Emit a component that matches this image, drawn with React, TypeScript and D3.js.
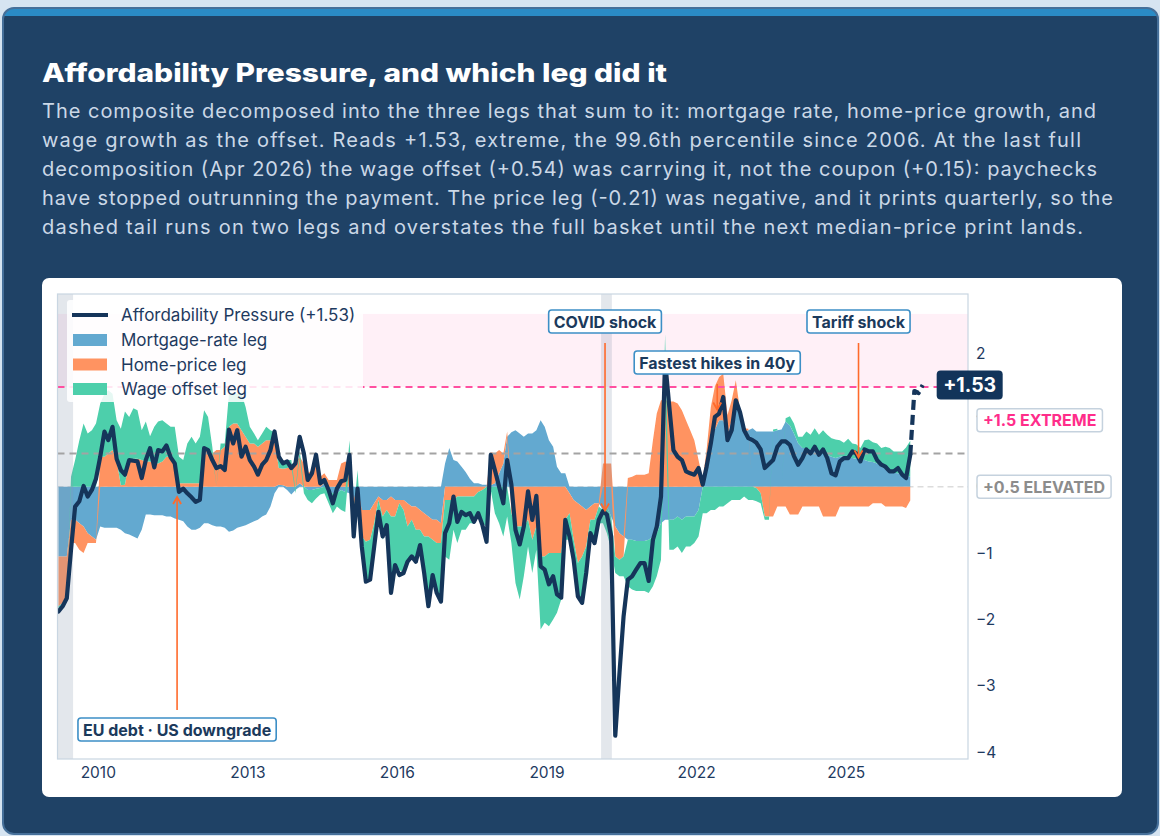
import React from 'react';
import * as d3 from 'd3';

const W = 1160;
const H = 836;
const FONT = "Inter, 'Noto Sans', 'DejaVu Sans', sans-serif";

// monthly series, first value = March 2009, last = April 2026
const START_YEAR = 2009;
const START_MONTH = 2;

const composite = [
  -1.88, -1.8, -1.68, -0.95, -0.3, -0.22, 0.01, -0.15, -0.05, 0.12, // 2009
  0.45, 0.83, 0.7, 0.9, 0.42, 0.25, 0.18, 0.4, 0.39, 0.38, 0.13, 0.4,
  0.58, 0.29, 0.55, 0.53, 0.62, 0.44, 0.35, -0.08, -0.03, -0.1, -0.16, -0.23,
  -0.2, 0.58, 0.55, 0.4, 0.28, 0.31, 0.25, 0.86, 0.65, 0.85, 0.45, 0.6,
  0.4, 0.3, 0.18, 0.33, 0.4, 0.55, 0.83, 0.45, 0.35, 0.38, 0.28, 0.35,
  0.75, 0.5, 0.1, 0.2, 0.48, 0.05, 0.1, -0.05, -0.25, -0.03, 0.08, 0.1,
  0.48, -0.75, -0.03, -0.9, -1.43, -1.4, -0.9, -0.38, -0.75, -0.58, -1.6, -1.18,
  -1.33, -1.3, -1.13, -1.05, -1.13, -0.88, -1.3, -1.8, -1.33, -1.6, -1.73, -0.7,
  -0.55, -0.15, -0.53, -0.38, -0.43, -0.4, -0.53, -0.4, -0.58, -0.83, 0.48, 0.25,
  0.0, -0.25, 0.4, 0.03, -0.65, -0.87, -0.6, -0.07, -0.5, -0.14, -1.2, -1.25,
  -1.47, -1.35, -1.62, -1.67, -0.5, -0.75, -1.1, -1.65, -1.75, -1.3, -0.7, -0.85,
  -0.5, -0.37, -0.42, -0.75, -3.75, -2.8, -1.95, -1.4, -1.35, -1.25, -1.15, -1.15,
  -1.42, -0.8, -0.6, -0.15, 1.9, 1.2, 0.55, 0.45, 0.4, 0.23, 0.2, 0.18,
  0.28, 0.03, 0.3, 0.65, 1.05, 1.1, 1.35, 0.7, 0.85, 1.3, 1.12, 0.85,
  0.73, 0.7, 0.66, 0.56, 0.28, 0.34, 0.4, 0.6, 0.68, 0.68, 0.63, 0.46,
  0.33, 0.43, 0.56, 0.5, 0.6, 0.48, 0.56, 0.43, 0.2, 0.17, 0.38, 0.43,
  0.43, 0.53, 0.5, 0.38, 0.56, 0.53, 0.53, 0.4, 0.33, 0.3, 0.23, 0.23,
  0.28, 0.18, 0.13, 0.48, // 2026
];

const mortgageLeg = [
  -1.05, -1.05, -1.05, -0.5, -0.5, -0.55, -0.6, -0.7, -0.75, -0.8,
  -0.6, -0.62, -0.62, -0.62, -0.62, -0.65, -0.7, -0.72, -0.75, -0.78, -0.65, -0.42,
  -0.42, -0.43, -0.43, -0.43, -0.45, -0.45, -0.48, -0.5, -0.52, -0.6, -0.65, -0.65,
  -0.62, -0.55, -0.55, -0.58, -0.6, -0.6, -0.62, -0.68, -0.66, -0.62, -0.6, -0.58,
  -0.55, -0.52, -0.5, -0.45, -0.42, -0.3, -0.1, 0.03, 0.02, -0.05, -0.12, -0.05,
  0.05, 0.0, -0.05, -0.05, -0.03, -0.02, 0.05, -0.05, -0.1, -0.1, -0.05, -0.08,
  -0.1, -0.2, -0.35, -0.35, -0.35, -0.35, -0.25, -0.15, -0.2, -0.2, -0.15, -0.2,
  -0.2, -0.2, -0.25, -0.3, -0.3, -0.35, -0.4, -0.45, -0.5, -0.5, -0.55, 0.35,
  0.58, 0.4, 0.38, 0.3, 0.22, 0.12, 0.05, 0.05, 0.03, 0.03, 0.02, 0.05,
  0.2, 0.35, 0.75, 0.82, 0.85, 0.8, 0.75, 0.8, 0.8, 0.85, 1.0, 0.9,
  0.7, 0.6, 0.3, 0.2, 0.2, -0.1, -0.2, -0.25, -0.3, -0.35, -0.3, -0.25,
  -0.25, -0.35, -0.3, -0.45, -0.6, -0.7, -0.75, -0.8, -0.8, -0.82, -0.82, -0.82,
  -0.8, -0.75, -0.7, -0.55, -0.5, -0.5, -0.5, -0.45, -0.5, -0.45, -0.45, -0.45,
  -0.35, 0.0, 0.3, 0.75, 0.86, 1.0, 1.0, 0.78, 1.0, 1.3, 1.05, 0.83,
  0.85, 0.88, 0.83, 0.83, 0.83, 0.83, 0.83, 0.85, 0.86, 0.98, 0.92, 0.8,
  0.65, 0.58, 0.58, 0.56, 0.56, 0.54, 0.5, 0.48, 0.45, 0.43, 0.45, 0.46,
  0.44, 0.43, 0.42, 0.41, 0.4, 0.38, 0.37, 0.35, 0.3, 0.27, 0.23, 0.21,
  0.2, 0.18, 0.17, 0.15,
];

const priceLeg = [
  -0.75, -0.7, -0.6, -0.35, -0.35, -0.4, -0.4, -0.15, -0.1, -0.05,
  0.45, 0.45, 0.5, 0.55, 0.4, 0.02, 0.03, 0.4, 0.42, 0.42, 0.4, 0.38,
  0.38, 0.35, 0.35, 0.38, 0.45, 0.45, 0.3, 0.05, 0.05, 0.05, 0.05, 0.05,
  0.05, 0.55, 0.55, 0.5, 0.55, 0.55, 0.6, 0.9, 0.95, 0.95, 0.85, 0.75,
  0.65, 0.65, 0.6, 0.65, 0.7, 0.7, 0.72, 0.25, 0.25, 0.28, 0.3, 0.35,
  0.4, 0.35, 0.2, 0.25, 0.35, 0.15, 0.15, 0.1, 0.1, 0.1, 0.35, 0.38,
  0.35, -0.2, 0.0, -0.4, -0.48, -0.45, -0.3, -0.05, -0.25, -0.15, -0.3, -0.25,
  -0.05, -0.15, -0.35, -0.2, -0.35, -0.3, -0.35, -0.3, -0.3, -0.35, -0.3, -0.2,
  -0.2, -0.2, -0.15, -0.15, -0.15, -0.15, -0.15, -0.08, -0.05, 0.0, 0.5, 0.45,
  0.35, 0.15, 0.08, -0.4, -0.6, -0.6, -0.6, -0.5, -0.8, -0.6, -1.05, -1.05,
  -1.0, -1.0, -1.0, -1.0, -0.5, -0.3, -0.6, -0.9, -0.75, -0.55, -0.2, -0.25,
  -0.05, 0.35, 0.35, 0.35, -0.45, -0.4, -0.3, 0.13, 0.15, 0.18, 0.18, 0.18,
  0.2, 0.7, 1.1, 1.3, 1.3, 1.28, 1.28, 1.25, 1.15, 1.0, 0.85, 0.7,
  0.4, 0.12, 0.25, 0.45, 0.65, 0.65, 0.7, 0.3, 0.3, 0.3, 0.1, 0.05,
  0.02, 0.0, -0.02, -0.1, -0.45, -0.45, -0.45, -0.3, -0.3, -0.3, -0.42, -0.42,
  -0.42, -0.3, -0.3, -0.3, -0.3, -0.3, -0.45, -0.45, -0.45, -0.45, -0.3, -0.3,
  -0.3, -0.3, -0.3, -0.3, -0.3, -0.3, -0.25, -0.25, -0.25, -0.3, -0.3, -0.3,
  -0.3, -0.3, -0.32, -0.21,
];

const wageLeg = [
  -0.08, -0.05, -0.03, 0.15, 0.4, 0.7, 0.95, 0.8, 0.85, 0.95,
  0.8, 0.95, 0.95, 0.85, 0.6, 0.85, 1.1, 0.65, 0.76, 0.73, 0.45, 0.6,
  0.38, 0.55, 0.63, 0.62, 0.5, 0.45, 0.6, 0.4, 0.35, 0.6, 0.7, 0.6,
  0.7, 0.6, 0.5, 0.1, 0.0, 0.1, 0.05, 0.5, 0.45, 0.45, 0.55, 0.45,
  0.25, 0.15, 0.1, 0.15, 0.2, 0.15, 0.1, 0.15, 0.1, 0.12, 0.1, -0.05,
  0.1, -0.1, -0.15, -0.2, -0.15, -0.1, -0.1, -0.2, -0.3, -0.2, -0.3, -0.3,
  0.35, -0.35, 0.25, -0.15, -0.6, -0.6, -0.4, -0.2, -0.35, -0.3, -1.15, -0.75,
  -1.0, -0.95, -0.55, -0.55, -0.5, -0.3, -0.55, -1.05, -0.55, -0.75, -0.9, -0.85,
  -0.9, -0.45, -0.7, -0.5, -0.5, -0.4, -0.4, -0.35, -0.5, -0.6, -0.05, -0.4,
  -0.55, -0.75, -0.45, -0.45, -0.85, -1.1, -0.75, -0.4, -0.5, -0.35, -1.1, -1.0,
  -1.1, -1.0, -0.9, -0.7, -0.3, -0.4, -0.3, -0.5, -0.7, -0.45, -0.3, -0.35,
  -0.25, -0.2, -0.4, -0.5, -0.25, -0.25, -0.3, -0.7, -0.75, -0.75, -0.75, -0.75,
  -0.8, -0.75, -0.65, -0.55, 1.0, -0.45, -0.45, -0.45, -0.5, -0.45, -0.45, -0.4,
  -0.4, -0.4, -0.4, -0.35, -0.35, -0.3, -0.3, -0.25, -0.2, -0.2, -0.2, -0.15,
  -0.2, -0.2, -0.2, -0.15, -0.05, -0.05, 0.03, 0.02, 0.0, 0.05, 0.14, 0.15,
  0.1, 0.17, 0.25, 0.22, 0.32, 0.24, 0.35, 0.3, 0.28, 0.28, 0.25, 0.2,
  0.28, 0.22, 0.22, 0.17, 0.3, 0.33, 0.3, 0.3, 0.28, 0.33, 0.35, 0.32,
  0.33, 0.35, 0.42, 0.54,
];

// dashed two-leg tail after the last full decomposition
const tailMonths = ['2026-04', '2026-05', '2026-06', '2026-07'];
const tailValues = [0.48, 1.44, 1.41, 1.53];

const yearTicks = [2010, 2013, 2016, 2019, 2022, 2025];
const valueTicks = [2, 1, 0, -1, -2, -3, -4];

const recessions = [
  ['2009-03-01', '2009-06-30'],
  ['2020-02-01', '2020-04-20'],
];

const annotations = [
  { label: 'EU debt · US downgrade', month: '2011-08' },
  { label: 'COVID shock', month: '2020-03' },
  { label: 'Fastest hikes in 40y', month: '2022-06' },
  { label: 'Tariff shock', month: '2025-04' },
];

const thresholds = [
  { value: 1.5, label: '+1.5 EXTREME' },
  { value: 0.5, label: '+0.5 ELEVATED' },
];

const legKeys = ['mortgage', 'price', 'wage'];
const legNames = ['Mortgage-rate leg', 'Home-price leg', 'Wage offset leg'];
const legColors = ['#63a9d0', '#ff9361', '#4dcfab'];

const NAVY = '#15355a';
const ORANGE = '#ff6a2b';

// layout
const PL = 57.5;
const PR = 968;
const PT = 294;
const PB = 759;
const annotationBoxTop = [718, 310, 351, 310];
const thresholdStyle = [
  { color: '#ff2d8a', line: '#ff4fa0' },
  { color: '#8c8c8c', line: '#a3a3a3' },
];

const parseMonth = d3.timeParse('%Y-%m');
const parseDay = d3.timeParse('%Y-%m-%d');

let measureCtx: CanvasRenderingContext2D | null = null;
function textWidth(text: string, font: string): number {
  if (!measureCtx) measureCtx = document.createElement('canvas').getContext('2d');
  if (!measureCtx) return text.length * 8;
  measureCtx.font = font;
  return measureCtx.measureText(text).width;
}

const subtitle = [
  { text: 'The composite decomposed into the three legs that sum to it: mortgage rate, home-price growth, and', w: 1054 },
  { text: 'wage growth as the offset. Reads +1.53, extreme, the 99.6th percentile since 2006. At the last full', w: 1039 },
  { text: 'decomposition (Apr 2026) the wage offset (+0.54) was carrying it, not the coupon (+0.15): paychecks', w: 1055 },
  { text: 'have stopped outrunning the payment. The price leg (-0.21) was negative, and it prints quarterly, so the', w: 1071 },
  { text: 'dashed tail runs on two legs and overstates the full basket until the next median-price print lands.', w: 1041 },
];

export default function App() {
  const x = d3.scaleTime().domain([new Date(2009, 2, 8), new Date(2027, 5, 12)]).range([PL, PR]);
  const y = d3.scaleLinear().domain([-4.1, 2.9]).range([PB, PT]);

  const dates = composite.map((_, i) => new Date(START_YEAR, START_MONTH + i, 15));
  const rows = dates.map((date, i) => ({
    date,
    mortgage: mortgageLeg[i],
    price: priceLeg[i],
    wage: wageLeg[i],
  }));
  const series = d3.stack<any>().keys(legKeys).offset(d3.stackOffsetDiverging)(rows);
  const area = d3.area<any>()
    .x(d => x(d.data.date))
    .y0(d => y(d[0]))
    .y1(d => y(d[1]));

  const line = d3.line<[Date, number]>()
    .x(d => x(d[0]))
    .y(d => y(d[1]));
  const mainPts: [Date, number][] = dates.map((d, i) => [d, composite[i]]);
  const tailPts: [Date, number][] = tailMonths.map((m, i) => [d3.timeDay.offset(parseMonth(m)!, 14), tailValues[i]]);
  const last = tailPts[tailPts.length - 1];

  const monthIndex = (m: string) => {
    const d = parseMonth(m)!;
    return (d.getFullYear() - START_YEAR) * 12 + d.getMonth() - START_MONTH;
  };

  const tagFont = `700 16px ${FONT}`;
  const endLabel = `+${last[1].toFixed(2)}`;

  return (
    <>
      <style>{`body{margin:0;background:#d6e4f1;}`}</style>
      <svg width={W} height={H} style={{ display: 'block', fontFamily: FONT }}>
        <defs>
          <clipPath id="card-clip">
            <rect x={3} y={8} width={1155} height={826} rx={11} />
          </clipPath>
          <clipPath id="plot-clip">
            <rect x={PL} y={PT} width={PR - PL} height={PB - PT} />
          </clipPath>
        </defs>
        <rect width={W} height={H} fill="#d6e4f1" />

        {/* card */}
        <rect x={3} y={8} width={1155} height={826} rx={11} fill="#1f4266" />
        <rect x={3} y={8} width={1155} height={8} fill="#2a8bc6" clipPath="url(#card-clip)" />
        <rect x={3} y={8} width={1155} height={826} rx={11} fill="none" stroke="#46709a" strokeWidth={2} />

        <text x={42} y={82} fill="#ffffff" fontSize={25.5} fontWeight={800} textLength={625} lengthAdjust="spacingAndGlyphs">
          Affordability Pressure, and which leg did it
        </text>
        {subtitle.map((s, i) => (
          <text key={i} x={42} y={118 + i * 29} fill="#cbd8e7" fontSize={20} textLength={s.w} lengthAdjust="spacing">
            {s.text}
          </text>
        ))}

        {/* white chart panel */}
        <rect x={42} y={278} width={1080} height={519} rx={7} fill="#ffffff" />

        <g clipPath="url(#plot-clip)">
          {/* extreme band */}
          <rect x={PL} width={PR - PL} y={y(2.6)} height={y(1.5) - y(2.6)} fill="#ff69b4" opacity={0.1} />
          <line x1={PL} x2={PR} y1={y(0)} y2={y(0)} stroke="#dcdcdc" strokeWidth={1.5} strokeDasharray="6 4" />

          {series.map((s, i) => (
            <path key={s.key} d={area(s) || ''} fill={legColors[i]} />
          ))}

          {recessions.map(([a, b], i) => {
            const x0 = Math.max(PL, x(parseDay(a)!));
            const x1 = x(parseDay(b)!);
            return <rect key={i} x={x0} width={x1 - x0} y={PT} height={PB - PT} fill="#8c9bb0" opacity={0.24} />;
          })}

          {thresholds.map((t, i) => (
            <line key={t.label} x1={PL} x2={PR} y1={y(t.value)} y2={y(t.value)}
              stroke={thresholdStyle[i].line} strokeWidth={2} strokeDasharray="7 5" />
          ))}

          <path d={line(mainPts) || ''} fill="none" stroke={NAVY} strokeWidth={4.2} strokeLinejoin="round" strokeLinecap="round" />
          <path d={line(tailPts) || ''} fill="none" stroke={NAVY} strokeWidth={4.2} strokeDasharray="10 5" strokeLinejoin="round" />
        </g>

        {/* plot frame */}
        <rect x={PL} y={PT} width={PR - PL} height={PB - PT} fill="none" stroke="#c9d6e2" strokeWidth={1.2} />

        {/* axes */}
        {yearTicks.map(yr => (
          <text key={yr} x={x(new Date(yr, 0, 1))} y={772} fill="#1e3a5f" fontSize={15.5}
            textAnchor="middle" dominantBaseline="central">{yr}</text>
        ))}
        {valueTicks.map(v => (
          <text key={v} x={976} y={y(v)} fill="#1e3a5f" fontSize={15.5} dominantBaseline="central">
            {d3.format('d')(v)}
          </text>
        ))}

        {/* threshold tags, set half a unit below their line */}
        {thresholds.map((t, i) => {
          const ty = y(t.value - 0.5);
          const tw = textWidth(t.label, tagFont) + 12;
          return (
            <g key={t.label}>
              <rect x={977} y={ty - 11.5} width={tw} height={23} rx={3} fill="#ffffff" stroke="#c5d2de" strokeWidth={1.5} />
              <text x={977 + tw / 2} y={ty} textAnchor="middle" dominantBaseline="central"
                fontSize={16} fontWeight={700} fill={thresholdStyle[i].color}>{t.label}</text>
            </g>
          );
        })}

        {/* end value */}
        <g>
          <rect x={x(last[0]) + 14} y={y(last[1]) - 14.5} width={66} height={29} rx={4} fill="#12345a" />
          <text x={x(last[0]) + 47} y={y(last[1])} textAnchor="middle" dominantBaseline="central"
            fontSize={19.5} fontWeight={700} fill="#ffffff">{endLabel}</text>
        </g>

        {/* annotations */}
        {annotations.map((a, i) => {
          const ax = x(parseMonth(a.month)!);
          const v = composite[monthIndex(a.month)];
          const top = annotationBoxTop[i];
          const bw = textWidth(a.label, tagFont) + 10;
          const below = top > y(v);
          const tip = below ? y(v) + 5 : y(v) - 4;
          const start = below ? top - 8 : top + 33;
          const dir = below ? 1 : -1;
          return (
            <g key={a.label}>
              <line x1={ax} x2={ax} y1={start} y2={tip} stroke={ORANGE} strokeWidth={1.6} />
              <path d={`M${ax - 4},${tip + dir * 7} L${ax},${tip} L${ax + 4},${tip + dir * 7}`}
                fill="none" stroke={ORANGE} strokeWidth={1.8} />
              <rect x={ax - bw / 2} y={top} width={bw} height={23} rx={3} fill="#ffffff" stroke="#3d8fc6" strokeWidth={1.6} />
              <text x={ax} y={top + 11.5} textAnchor="middle" dominantBaseline="central"
                fontSize={16} fontWeight={700} fill="#1b3a5c">{a.label}</text>
            </g>
          );
        })}

        {/* legend */}
        <g>
          <rect x={67} y={300} width={296} height={102} rx={3} fill="#ffffff" opacity={0.86} />
          <line x1={72} x2={108} y1={315} y2={315} stroke={NAVY} strokeWidth={4} />
          <text x={121} y={315} fontSize={17} fill="#1e3a5f" dominantBaseline="central">
            {`Affordability Pressure (${endLabel})`}
          </text>
          {legNames.map((name, i) => (
            <g key={name}>
              <rect x={73} y={334 + i * 24.5} width={34} height={12} fill={legColors[i]} />
              <text x={121} y={340 + i * 24.5} fontSize={17} fill="#1e3a5f" dominantBaseline="central">{name}</text>
            </g>
          ))}
        </g>
      </svg>
    </>
  );
}
